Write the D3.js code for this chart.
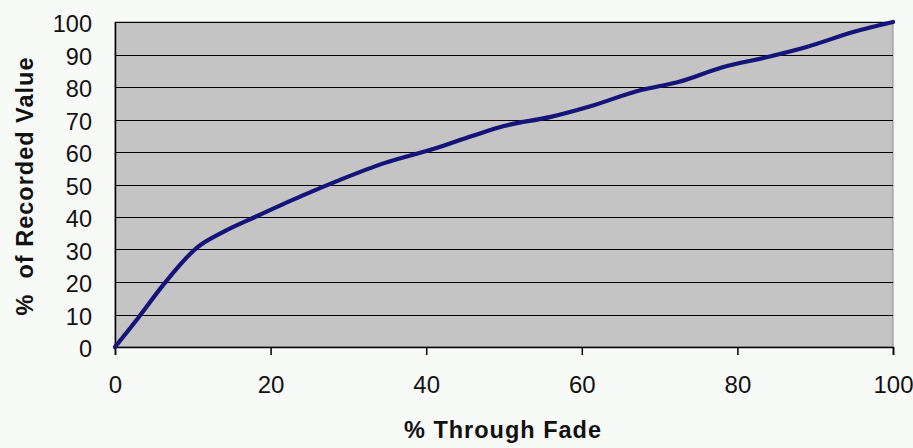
<!DOCTYPE html>
<html><head><meta charset="utf-8">
<script src="https://cdn.jsdelivr.net/npm/d3@7"></script>
<style>
html,body{margin:0;padding:0;background:#f8faf8;}
svg{display:block;}
text{font-family:"Liberation Sans",Arial,sans-serif;fill:#111;}
</style></head><body>
<script>
const fadePct = [0, 3, 6, 10.5, 14, 18, 24, 29, 34.5, 41, 46, 50, 56, 61, 67.5, 72.5, 78, 84, 89, 95, 100];
const recordedPct = [0, 9, 18.5, 30.5, 35.5, 40, 46.5, 51.5, 56.5, 61, 65, 68, 70.8, 74, 79, 81.6, 86, 89.3, 92.4, 97, 100];
const xTicks = [0, 20, 40, 60, 80, 100];
const yTicks = [0, 10, 20, 30, 40, 50, 60, 70, 80, 90, 100];
const xTitle = "% Through Fade";
const yTitle = "%  of Recorded Value";

const W = 913, H = 448;
const m = {left:115, right:20, top:22, bottom:101};
const svg = d3.select("body").append("svg").attr("width", W).attr("height", H);
const x = d3.scaleLinear().domain([0,100]).range([m.left, W - m.right]);
const y = d3.scaleLinear().domain([0,100]).range([H - m.bottom, m.top]);

svg.append("rect").attr("x", x(0)).attr("y", y(100)).attr("width", x(100)-x(0)).attr("height", y(0)-y(100))
  .attr("fill", "#c4c4c4").attr("stroke", "#8a8a8a").attr("stroke-width", 1);

// gridlines
svg.append("g").selectAll("line").data(yTicks).join("line")
  .attr("x1", x(0)).attr("x2", x(100))
  .attr("y1", d => Math.round(y(d)) + 0.5).attr("y2", d => Math.round(y(d)) + 0.5)
  .attr("stroke", "#000").attr("stroke-width", 1.2);

// y axis
const yAxis = svg.append("g").attr("transform", `translate(${x(0)},0)`)
  .call(d3.axisLeft(y).tickValues(yTicks).tickSize(0).tickPadding(23));
yAxis.select(".domain").attr("stroke", "#000").attr("stroke-width", 1.5);
yAxis.selectAll("text").attr("font-size", 23.5).attr("dy", "0.42em")
  .style("font-family", "'Liberation Sans',Arial,sans-serif").attr("fill", "#111");

// x axis
const xAxis = svg.append("g").attr("transform", `translate(0,${y(0)})`)
  .call(d3.axisBottom(x).tickValues(xTicks).tickSize(8).tickPadding(21));
xAxis.select(".domain").attr("stroke", "#000").attr("stroke-width", 1.5);
xAxis.selectAll(".tick line").attr("stroke", "#000").attr("stroke-width", 1.5);
xAxis.selectAll("text").attr("font-size", 24)
  .style("font-family", "'Liberation Sans',Arial,sans-serif").attr("fill", "#111");

// line
const line = d3.line().x((d,i) => x(fadePct[i])).y(d => y(d)).curve(d3.curveMonotoneX);
svg.append("path").datum(recordedPct).attr("d", line)
  .attr("fill", "none").attr("stroke", "#14147a").attr("stroke-width", 4.2)
  .attr("stroke-linejoin", "round").attr("stroke-linecap", "round");

// titles
svg.append("text").attr("x", 503).attr("y", 438).attr("text-anchor", "middle")
  .attr("font-size", 23.5).attr("font-weight", "bold").attr("letter-spacing", 1).text(xTitle);
svg.append("text").attr("transform", "translate(33,186) rotate(-90)").attr("text-anchor", "middle")
  .style("white-space", "pre")
  .attr("font-size", 23.5).attr("font-weight", "bold").attr("letter-spacing", 1).text(yTitle);
</script>
</body></html>
